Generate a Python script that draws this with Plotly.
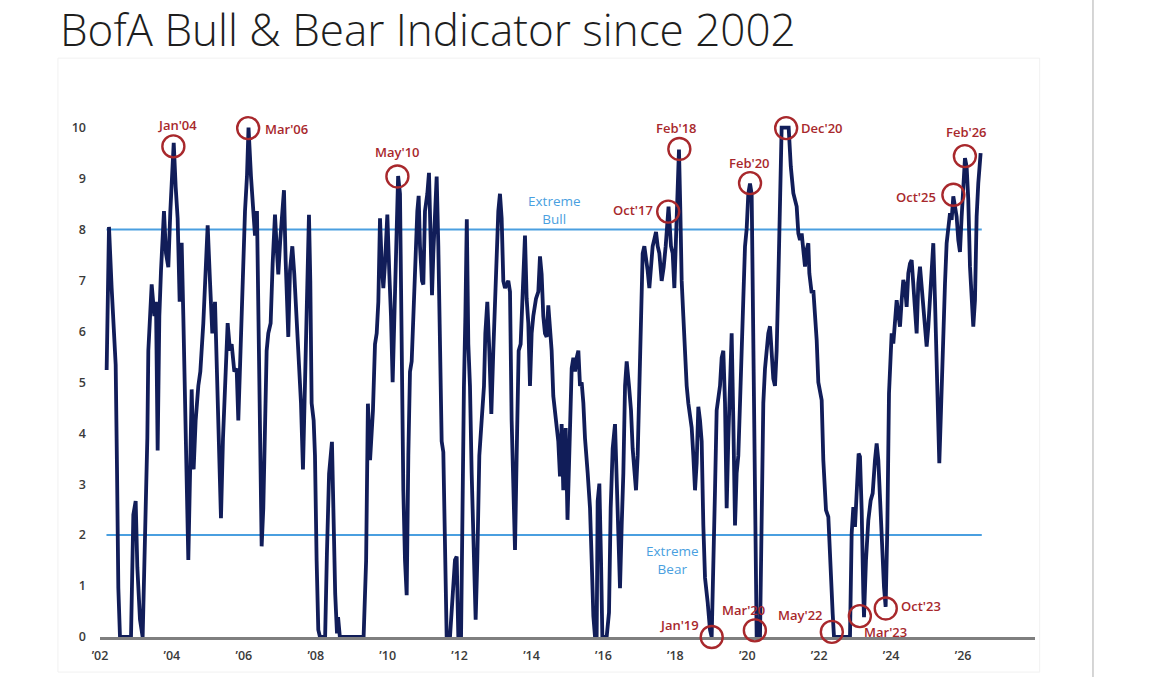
import plotly.graph_objects as go

# ---------------- data (decimal years, indicator value) ----------------
DATES = [
    2002.185, 2002.25, 2002.324, 2002.436, 2002.473, 2002.51, 2002.556, 2002.862, 2002.927, 2002.992,
    2003.038, 2003.112, 2003.186, 2003.251, 2003.316, 2003.344, 2003.437, 2003.511, 2003.557, 2003.603,
    2003.65, 2003.696, 2003.779, 2003.835, 2003.9, 2003.956, 2004.011, 2004.05, 2004.104, 2004.159,
    2004.215, 2004.271, 2004.317, 2004.382, 2004.456, 2004.512, 2004.549, 2004.604, 2004.66, 2004.734,
    2004.79, 2004.873, 2004.938, 2004.994, 2005.058, 2005.123, 2005.198, 2005.253, 2005.309, 2005.364,
    2005.42, 2005.475, 2005.55, 2005.614, 2005.661, 2005.735, 2005.8, 2005.846, 2005.902, 2005.967,
    2006.032, 2006.087, 2006.13, 2006.198, 2006.254, 2006.31, 2006.365, 2006.402, 2006.449, 2006.495,
    2006.541, 2006.588, 2006.634, 2006.68, 2006.745, 2006.801, 2006.866, 2006.912, 2006.958, 2007.014,
    2007.07, 2007.116, 2007.162, 2007.236, 2007.283, 2007.348, 2007.403, 2007.459, 2007.514, 2007.589,
    2007.644, 2007.7, 2007.755, 2007.811, 2007.848, 2007.885, 2007.941, 2007.978, 2008.024, 2008.07,
    2008.117, 2008.26, 2008.31, 2008.37, 2008.45, 2008.48, 2008.54, 2008.59, 2008.62, 2008.67,
    2009.33, 2009.40, 2009.45, 2009.51, 2009.59, 2009.647, 2009.694, 2009.74, 2009.786, 2009.833,
    2009.879, 2009.925, 2009.99, 2010.046, 2010.092, 2010.138, 2010.185, 2010.231, 2010.29, 2010.342,
    2010.389, 2010.435, 2010.481, 2010.528, 2010.574, 2010.62, 2010.667, 2010.713, 2010.759, 2010.824,
    2010.861, 2010.898, 2010.954, 2010.991, 2011.037, 2011.102, 2011.148, 2011.195, 2011.232, 2011.269,
    2011.315, 2011.362, 2011.408, 2011.454, 2011.501, 2011.547, 2011.593, 2011.64, 2011.732, 2011.807,
    2011.871, 2011.918, 2011.964, 2012.04, 2012.08, 2012.12, 2012.16, 2012.2, 2012.242, 2012.288,
    2012.335, 2012.381, 2012.446, 2012.492, 2012.548, 2012.613, 2012.678, 2012.715, 2012.77, 2012.826,
    2012.882, 2012.937, 2012.984, 2013.03, 2013.076, 2013.122, 2013.169, 2013.215, 2013.262, 2013.354,
    2013.401, 2013.447, 2013.493, 2013.54, 2013.586, 2013.642, 2013.697, 2013.753, 2013.818, 2013.864,
    2013.91, 2013.957, 2014.003, 2014.049, 2014.124, 2014.189, 2014.235, 2014.281, 2014.327, 2014.374,
    2014.42, 2014.466, 2014.513, 2014.559, 2014.605, 2014.679, 2014.744, 2014.791, 2014.837, 2014.883,
    2014.95, 2015.0, 2015.06, 2015.116, 2015.163, 2015.209, 2015.255, 2015.302, 2015.348, 2015.394,
    2015.441, 2015.487, 2015.561, 2015.626, 2015.672, 2015.719, 2015.765, 2015.811, 2015.839, 2015.886,
    2015.932, 2015.969, 2016.089, 2016.154, 2016.201, 2016.256, 2016.321, 2016.367, 2016.414, 2016.46,
    2016.507, 2016.553, 2016.6, 2016.646, 2016.71, 2016.766, 2016.812, 2016.859, 2016.905, 2016.951,
    2016.998, 2017.044, 2017.09, 2017.137, 2017.183, 2017.229, 2017.276, 2017.322, 2017.368, 2017.415,
    2017.461, 2017.508, 2017.554, 2017.619, 2017.674, 2017.73, 2017.786, 2017.81, 2017.878, 2017.925,
    2017.971, 2018.017, 2018.064, 2018.1, 2018.138, 2018.175, 2018.221, 2018.268, 2018.314, 2018.36,
    2018.407, 2018.453, 2018.499, 2018.546, 2018.592, 2018.638, 2018.685, 2018.731, 2018.777, 2018.824,
    2018.898, 2018.963, 2019.009, 2019.055, 2019.102, 2019.148, 2019.194, 2019.241, 2019.287, 2019.333,
    2019.38, 2019.426, 2019.472, 2019.519, 2019.565, 2019.611, 2019.658, 2019.704, 2019.75, 2019.797,
    2019.843, 2019.889, 2019.936, 2019.982, 2020.028, 2020.075, 2020.121, 2020.167, 2020.214, 2020.26,
    2020.353, 2020.399, 2020.445, 2020.492, 2020.538, 2020.584, 2020.631, 2020.677, 2020.723, 2020.77,
    2020.816, 2020.862, 2020.909, 2020.955, 2021.15, 2021.21, 2021.28, 2021.373, 2021.419, 2021.465,
    2021.512, 2021.558, 2021.604, 2021.65, 2021.697, 2021.725, 2021.79, 2021.836, 2021.882, 2021.929,
    2021.975, 2022.021, 2022.068, 2022.114, 2022.188, 2022.253, 2022.281, 2022.318, 2022.374, 2022.411,
    2022.855, 2022.902, 2022.948, 2022.994, 2023.041, 2023.096, 2023.133, 2023.18, 2023.226, 2023.245,
    2023.3, 2023.365, 2023.43, 2023.486, 2023.55, 2023.597, 2023.643, 2023.69, 2023.736, 2023.801,
    2023.847, 2023.894, 2023.94, 2023.968, 2024.014, 2024.06, 2024.106, 2024.153, 2024.199, 2024.246,
    2024.292, 2024.338, 2024.385, 2024.431, 2024.477, 2024.524, 2024.57, 2024.616, 2024.663, 2024.709,
    2024.755, 2024.802, 2024.848, 2024.894, 2024.941, 2024.987, 2025.033, 2025.08, 2025.126, 2025.172,
    2025.219, 2025.265, 2025.293, 2025.339, 2025.386, 2025.423, 2025.45, 2025.497, 2025.543, 2025.589,
    2025.636, 2025.682, 2025.728, 2025.775, 2025.821, 2025.867, 2025.914, 2025.96, 2026.006, 2026.053,
    2026.099, 2026.145, 2026.192, 2026.238, 2026.284, 2026.331, 2026.377, 2026.423, 2026.488,
]
VALUES = [
    5.24, 8.05, 6.85, 5.34, 3.29, 0.96, 0.0, 0.0, 2.4, 2.67,
    1.37, 0.34, 0.0, 1.99, 3.9, 5.62, 6.92, 6.3, 6.58, 3.66,
    6.3, 7.19, 8.36, 7.53, 7.26, 8.36, 9.38, 9.7, 8.84, 8.22,
    6.58, 7.74, 6.3, 3.56, 1.51, 3.49, 4.86, 3.29, 4.25, 4.93,
    5.21, 6.16, 7.4, 8.08, 6.99, 5.96, 6.58, 4.93, 3.56, 2.33,
    3.9, 4.93, 6.16, 5.62, 5.75, 5.21, 5.27, 4.25, 5.62, 6.85,
    8.36, 9.04, 10.0, 9.04, 8.36, 7.88, 8.36, 6.3, 3.56, 1.78,
    2.53, 4.25, 5.62, 5.96, 6.16, 7.33, 8.29, 7.67, 7.12, 7.81,
    8.42, 8.77, 7.4, 5.89, 7.19, 7.67, 7.12, 6.44, 5.62, 4.59,
    3.29, 4.93, 6.99, 8.29, 6.99, 4.59, 4.25, 3.56, 1.5, 0.14,
    0.0, 0.0, 1.64, 3.2, 3.83, 2.8, 0.85, 0.07, 0.39, 0.0,
    0.0, 1.5, 4.58, 3.47, 4.45, 5.75, 5.96, 6.58, 8.22, 7.33,
    6.85, 7.33, 8.29, 7.12, 6.3, 5.0, 6.3, 8.01, 9.05, 8.7,
    5.62, 2.88, 1.51, 0.82, 3.56, 5.21, 5.41, 6.3, 7.33, 8.36,
    8.66, 7.67, 6.99, 6.92, 8.36, 8.7, 9.11, 7.67, 6.71, 7.53,
    8.36, 9.04, 7.67, 5.96, 3.84, 3.63, 1.85, 0.0, 0.0, 0.96,
    1.51, 1.58, 0.0, 0.0, 3.2, 4.9, 6.3, 8.2, 5.75, 4.93,
    3.22, 1.85, 0.34, 1.51, 3.56, 4.25, 4.93, 5.96, 6.58, 5.62,
    4.38, 5.62, 6.64, 7.67, 8.36, 8.7, 8.22, 6.99, 6.85, 6.99,
    6.78, 4.25, 2.53, 1.71, 3.56, 5.62, 5.75, 6.99, 7.88, 6.64,
    6.16, 4.93, 5.96, 6.3, 6.64, 6.78, 7.47, 7.12, 6.3, 5.96,
    5.89, 6.51, 5.96, 5.62, 4.73, 4.25, 3.84, 3.15, 4.18, 2.88,
    4.1, 2.3, 3.6, 5.27, 5.48, 5.21, 5.48, 5.62, 4.93, 5.0,
    4.59, 3.9, 3.22, 2.53, 1.51, 0.41, 0.0, 0.0, 2.67, 3.01,
    1.51, 0.0, 0.0, 0.48, 2.53, 3.7, 4.18, 3.22, 2.19, 0.96,
    2.19, 3.22, 4.93, 5.41, 4.93, 4.45, 3.7, 3.22, 2.88, 3.56,
    4.93, 6.3, 7.53, 7.67, 7.47, 7.19, 6.85, 7.4, 7.67, 7.81,
    7.95, 7.67, 7.53, 6.99, 7.26, 7.67, 8.36, 8.45, 7.67, 7.53,
    6.85, 7.67, 8.7, 9.57, 8.36, 6.99, 6.3, 5.34, 4.93, 4.59,
    4.38, 4.11, 3.56, 2.88, 3.42, 4.52, 4.25, 3.84, 2.19, 1.16,
    0.68, 0.14, 0.0, 1.16, 2.88, 4.45, 4.66, 4.93, 5.48, 5.62,
    4.59, 2.53, 3.9, 4.73, 5.96, 4.25, 2.19, 3.22, 3.56, 4.59,
    5.96, 6.64, 7.67, 8.01, 8.7, 8.9, 8.7, 5.62, 2.19, 0.0,
    0.0, 2.88, 4.59, 5.27, 5.62, 5.96, 6.1, 5.62, 5.07, 4.93,
    5.62, 6.99, 9.04, 10.0, 10.0, 9.23, 8.71, 8.45, 7.92, 7.79,
    7.92, 7.47, 7.27, 7.6, 7.73, 7.14, 6.75, 6.81, 6.35, 5.83,
    5.0, 4.78, 4.65, 3.47, 2.49, 2.36, 1.83, 1.38, 0.46, 0.0,
    0.0, 2.03, 2.55, 2.16, 2.82, 3.6, 3.54, 2.49, 0.85, 0.39,
    1.51, 2.29, 2.68, 2.82, 3.47, 3.8, 3.47, 2.68, 1.83, 0.98,
    0.59, 2.16, 4.78, 5.3, 5.96, 5.76, 6.09, 6.61, 6.35, 6.09,
    6.61, 7.01, 6.88, 6.48, 7.14, 7.33, 7.4, 6.88, 6.29, 5.96,
    6.94, 7.27, 6.88, 6.48, 5.96, 5.7, 6.09, 6.61, 7.4, 7.73,
    6.61, 5.04, 4.45, 3.41, 4.45, 5.44, 5.96, 6.94, 7.73, 8.05,
    8.32, 8.19, 8.65, 8.45, 8.25, 7.79, 7.56, 8.25, 8.91, 9.4,
    9.23, 8.58, 7.27, 6.48, 6.09, 6.61, 8.25, 8.91, 9.5,
]

BULL_LEVEL = 8
BEAR_LEVEL = 2
BAND_DATES = [2002.18, 2026.52]

X_TICK_YEARS = [2002, 2004, 2006, 2008, 2010, 2012, 2014, 2016, 2018, 2020, 2022, 2024, 2026]
X_TICK_LABELS = ["\u201902", "\u201904", "\u201906", "\u201908", "\u201910", "\u201912", "\u201914",
                 "\u201916", "\u201918", "\u201920", "\u201922", "\u201924", "\u201926"]
Y_TICKS = [0, 1, 2, 3, 4, 5, 6, 7, 8, 9, 10]

CALLOUT_LABELS = ["Jan'04", "Mar'06", "May'10", "Oct'17", "Feb'18", "Jan'19", "Feb'20", "Mar'20",
                  "Dec'20", "May'22", "Mar'23", "Oct'23", "Oct'25", "Feb'26"]
CALLOUT_DATES = [2004.04, 2006.12, 2010.27, 2017.80, 2018.11, 2019.01, 2020.076, 2020.21,
                 2021.08, 2022.35, 2023.13, 2023.85, 2025.73, 2026.05]
CALLOUT_VALUES = [9.63, 9.99, 9.04, 8.35, 9.58, 0.0, 8.91, 0.13,
                  9.99, 0.1, 0.41, 0.56, 8.68, 9.44]
# label placement: (xanchor, xshift px, yshift px)
CALLOUT_PLACEMENT = [("center", 4, 21), ("left", 15, -1), ("center", 0, 24), ("right", -13, 2),
                     ("center", -3, 21), ("right", -11, 12), ("center", -1, 20), ("center", -11, 20),
                     ("left", 13, 0), ("right", -7, 17), ("left", 2, -16), ("left", 13, 2),
                     ("right", -15, -2), ("center", 2, 24)]

NAVY = "#111d59"
BLUE = "#4a9fe0"
RED = "#a8282c"

fig = go.Figure()

for lvl in (BULL_LEVEL, BEAR_LEVEL):
    fig.add_trace(go.Scatter(x=BAND_DATES, y=[lvl, lvl], mode="lines",
                             line=dict(color=BLUE, width=2), hoverinfo="skip"))

fig.add_trace(go.Scatter(x=DATES, y=VALUES, mode="lines",
                         line=dict(color=NAVY, width=3.8), cliponaxis=False))

fig.add_trace(go.Scatter(x=CALLOUT_DATES, y=CALLOUT_VALUES, mode="markers",
                         marker=dict(symbol="circle-open", size=22, color=RED, line=dict(width=2.4)),
                         cliponaxis=False, hoverinfo="skip"))

annotations = []
for lab, t, v, (xa, dx, dy) in zip(CALLOUT_LABELS, CALLOUT_DATES, CALLOUT_VALUES, CALLOUT_PLACEMENT):
    annotations.append(dict(x=t, y=v, text=lab, showarrow=False, xanchor=xa, yanchor="middle",
                            xshift=dx, yshift=dy,
                            font=dict(family="Open Sans", size=13, color=RED, weight=600)))

annotations.append(dict(x=2014.65, y=8.39, text="Extreme<br>Bull", showarrow=False, align="center",
                        font=dict(family="Open Sans", size=13.5, color=BLUE)))
annotations.append(dict(x=2017.92, y=1.52, text="Extreme<br>Bear", showarrow=False, align="center",
                        font=dict(family="Open Sans", size=13.5, color=BLUE)))

tickfont = dict(family="Open Sans", size=12.5, color="#3a3a3a", weight=600)

fig.update_layout(
    width=1156, height=677,
    margin=dict(l=100, r=121, t=97, b=40),
    paper_bgcolor="white", plot_bgcolor="white",
    showlegend=False,
    title=dict(text="BofA Bull & Bear Indicator since 2002",
               x=60 / 1156, xanchor="left", xref="container",
               y=1 - 31 / 677, yanchor="middle", yref="container",
               font=dict(family="Open Sans", size=44, color="#1e1e1e", weight=300)),
    xaxis=dict(range=[2002, 2028], tickvals=X_TICK_YEARS, ticktext=X_TICK_LABELS,
               showgrid=False, zeroline=False, showline=True, linecolor="#7f7f7f", linewidth=2.5,
               ticks="", tickfont=tickfont, ticklabelstandoff=5, layer="below traces"),
    yaxis=dict(range=[0, 10.6], tickvals=Y_TICKS, showgrid=False, zeroline=False,
               showline=False, ticks="", tickfont=tickfont, ticklabelstandoff=13),
    annotations=annotations,
    shapes=[
        dict(type="line", xref="paper", yref="paper", x0=1.062, x1=1.062, y0=-0.075, y1=1.18,
             line=dict(color="#c8c8c8", width=1.5)),
        dict(type="rect", xref="paper", yref="paper", x0=-0.045, x1=1.005, y0=-0.065, y1=1.072,
             line=dict(color="#f1f1f1", width=1)),
    ],
)

fig.write_html("out.html")
